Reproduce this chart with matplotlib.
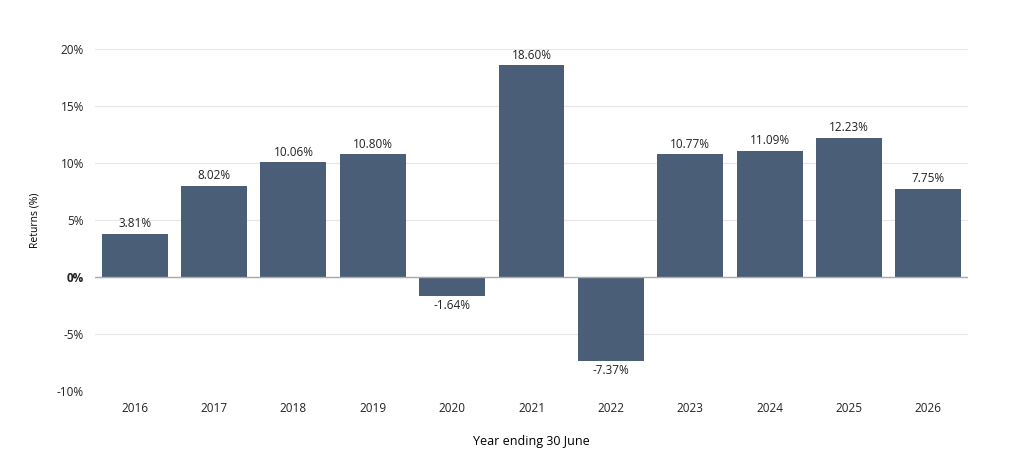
import matplotlib
matplotlib.use('Agg')
import matplotlib.pyplot as plt
import numpy as np

years = ['2016', '2017', '2018', '2019', '2020', '2021', '2022', '2023', '2024', '2025', '2026']
returns = [3.81, 8.02, 10.06, 10.80, -1.64, 18.60, -7.37, 10.77, 11.09, 12.23, 7.75]

plt.rcParams['font.family'] = ['Open Sans', 'DejaVu Sans']

fig = plt.figure(figsize=(10.13, 4.5), dpi=100)
ax = fig.add_axes([0.0938, 0.131, 0.8618, 0.76])

x = np.arange(len(years))
ax.bar(x, returns, width=0.83, color='#4b5e78', zorder=3)
for xi, v in zip(x, returns):
    if v >= 0:
        ax.text(xi, v + 0.3, f'{v:.2f}%', ha='center', va='bottom', fontsize=8.5, color='#222222')
    else:
        ax.text(xi, v - 0.3, f'{v:.2f}%', ha='center', va='top', fontsize=8.5, color='#222222')

ax.set_xlim(-0.5, len(years) - 0.5)
ax.set_ylim(-10, 20)
ax.set_yticks([-10, -5, 0, 5, 10, 15, 20])
ax.set_yticklabels(['-10%', '-5%', '0%', '5%', '10%', '15%', '20%'], fontsize=8.5)
ax.get_yticklabels()[2].set_fontweight('bold')
ax.set_xticks(x)
ax.set_xticklabels(years, fontsize=8.5)
ax.grid(axis='y', color='#e6e6e6', linewidth=0.8, zorder=0)
ax.axhline(0, color='#aaaaaa', linewidth=1, zorder=4)
ax.tick_params(length=0, pad=8, colors='#222222')
for s in ax.spines.values():
    s.set_visible(False)
ax.set_ylabel('Returns (%)', fontsize=7.5, labelpad=12)
ax.set_xlabel('Year ending 30 June', fontsize=9, labelpad=14)

fig.savefig('out.png', dpi=100)
